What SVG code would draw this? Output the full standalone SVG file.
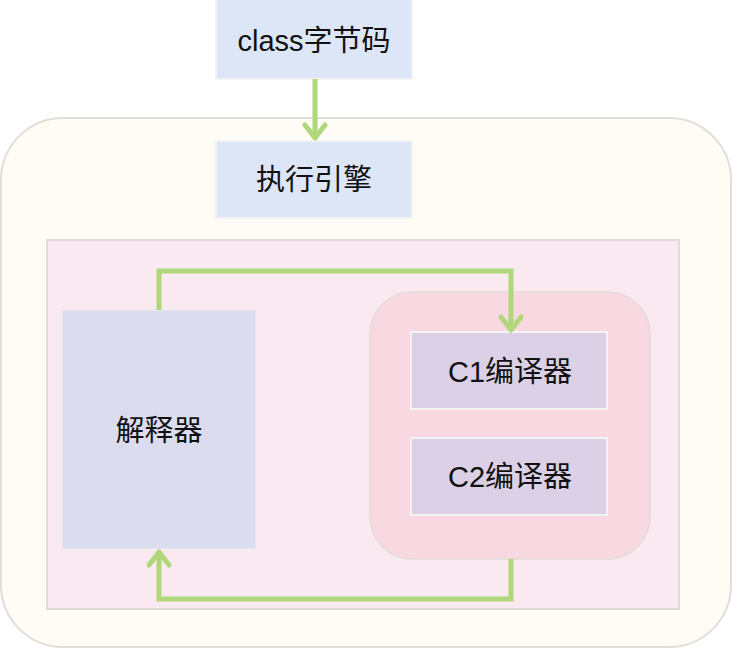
<svg xmlns="http://www.w3.org/2000/svg" width="733" height="649" viewBox="0 0 733 649">
<style>
text{font-family:"Liberation Sans","Noto Sans CJK SC",sans-serif;font-size:29px;fill:#111;text-anchor:middle;dominant-baseline:central}
.box{stroke:#f3f3f3;stroke-width:2}
.conn{fill:none;stroke:#b0d77b;stroke-width:5}
.head{fill:none;stroke:#b0d77b;stroke-width:5;stroke-linecap:round;stroke-linejoin:round}
</style>
<rect width="733" height="649" fill="#fff"/>
<g id="engine-container">
<rect x="1" y="118" width="730" height="529" rx="62" fill="#fffbf5" stroke="#e2ddd8" stroke-width="2"/>
</g>
<g id="class">
<rect class="box" x="216" y="-1" width="196" height="80" fill="#dce6f7"/>
<text x="314" y="41">class字节码</text>
</g>
<g id="engine">
<rect class="box" x="216" y="141" width="196" height="77" fill="#dce6f7"/>
<text x="314" y="180">执行引擎</text>
</g>
<g id="inner">
<rect x="47" y="240" width="632" height="369" fill="#fae9f0" stroke="#dedad8" stroke-width="2"/>
</g>
<g id="interpreter">
<rect x="62" y="310" width="194" height="239" fill="#dcdcef" stroke="#f0f0f0" stroke-width="1"/>
<text x="159" y="431">解释器</text>
</g>
<g id="jit">
<rect x="370" y="292" width="280" height="267" rx="42" fill="#f8d9e2" stroke="#e2dcd8" stroke-width="1.5"/>
</g>
<g id="c1">
<rect class="box" x="411" y="332" width="196" height="77" fill="#dbd0e5"/>
<text x="510" y="372">C1编译器</text>
</g>
<g id="c2">
<rect class="box" x="411" y="438" width="196" height="77" fill="#dbd0e5"/>
<text x="510" y="477">C2编译器</text>
</g>
<g id="connectors">
<path class="conn" d="M315 79 V138"/>
<path class="head" d="M305 125 L315 138 L325 125"/>
<path class="conn" d="M159 310 V271 H511 V330"/>
<path class="head" d="M501 317 L511 330 L521 317"/>
<path class="conn" d="M511 559 V599 H159 V552"/>
<path class="head" d="M149 565 L159 552 L169 565"/>
</g>
</svg>
